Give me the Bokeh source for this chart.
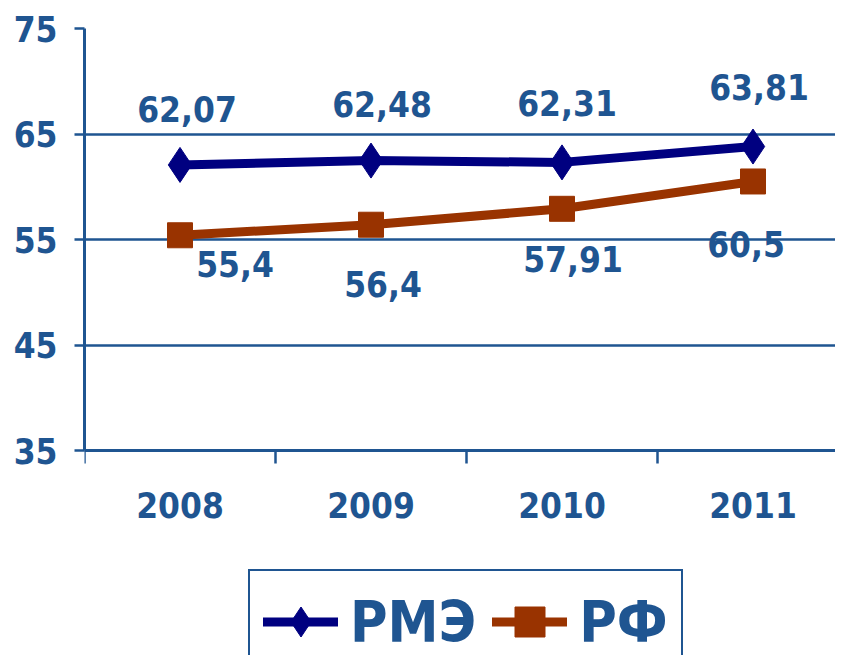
from bokeh.plotting import figure
from bokeh.models import (ColumnDataSource, Range1d, FixedTicker, Legend, LegendItem)
from bokeh.core.properties import value
from bokeh.embed import file_html
from bokeh.resources import INLINE

# ---- data ----
years = ["2008", "2009", "2010", "2011"]
rme = [62.07, 62.48, 62.31, 63.81]
rf = [55.4, 56.4, 57.91, 60.5]
rme_labels = ["62,07", "62,48", "62,31", "63,81"]
rf_labels = ["55,4", "56,4", "57,91", "60,5"]
y_ticks = [35, 45, 55, 65, 75]

# label nudges in screen pixels (manual placement as in the original)
rme_dx = [7, 11, 5, 6]
rme_dy = [-56, -57, -59, -60]
rf_dx = [55, 12, 11, -7]
rf_dy = [29, 59, 50, 63]

FONT = "DejaVu Sans Condensed, DejaVu Sans"
BLUE = "#1F5591"
NAVY = "#000080"
BROWN = "#993300"

W, H = 835, 655
LEFT, TOP = 84, 28
AXIS_PX = 422                      # pixel height of the 35..75 value band
y_min, y_max = y_ticks[0], y_ticks[-1]
px_per_unit = AXIS_PX / (y_max - y_min)
y_lo = y_min - (H - TOP - AXIS_PX) / px_per_unit   # frame continues below the axis for the legend

n = len(years)
xc = [i + 0.5 for i in range(n)]          # category centres on a linear scale
bounds = list(range(n + 1))               # category boundaries
cat_px = 191
x_hi = (W - LEFT) / cat_px

p = figure(width=W, height=H,
           x_range=Range1d(0, x_hi), y_range=Range1d(y_lo, y_max),
           output_backend="svg", toolbar_location=None,
           x_axis_location=None, y_axis_location="left",
           min_border_left=LEFT, min_border_right=0, min_border_top=TOP,
           min_border_bottom=0)
p.outline_line_color = None
p.background_fill_color = "white"
p.border_fill_color = "white"

# y axis (line limited to the value band)
p.yaxis.bounds = (y_min, y_max)
p.yaxis.ticker = FixedTicker(ticks=y_ticks)
p.yaxis.axis_line_color = BLUE
p.yaxis.axis_line_width = 3
p.yaxis.major_tick_line_color = BLUE
p.yaxis.major_tick_line_width = 2.5
p.yaxis.major_tick_out = 10
p.yaxis.major_tick_in = 0
p.yaxis.minor_tick_line_color = None
p.yaxis.major_label_standoff = 17
p.yaxis.major_label_text_font = FONT
p.yaxis.major_label_text_font_style = "bold"
p.yaxis.major_label_text_font_size = "35px"
p.yaxis.major_label_text_color = BLUE

p.xgrid.grid_line_color = None
p.ygrid.ticker = FixedTicker(ticks=y_ticks)
p.ygrid.grid_line_color = BLUE
p.ygrid.grid_line_width = 2.5

# category axis: base line at 35; boundary ticks + labels
tick_len = 13 / px_per_unit
p.segment(x0=bounds, y0=[y_min] * len(bounds), x1=bounds,
          y1=[y_min - tick_len] * len(bounds), line_color=BLUE, line_width=2.5)
p.segment(x0=[0], y0=[y_min], x1=[x_hi], y1=[y_min], line_color=BLUE, line_width=3)
p.text(x=xc, y=[y_min] * n, text=years, y_offset=54,
       text_font=value(FONT), text_font_style="bold", text_font_size="35px",
       text_color=BLUE, text_align="center", text_baseline="alphabetic")

# series
l1 = p.line(xc, rme, line_width=9, color=NAVY, line_cap="round", line_join="round")
s1 = p.scatter(xc, rme, marker="diamond", size=35, color=NAVY)
l2 = p.line(xc, rf, line_width=9, color=BROWN, line_cap="round", line_join="round")
s2 = p.scatter(xc, rf, marker="square", size=25, color=BROWN)

src1 = ColumnDataSource(dict(x=xc, y=rme, t=rme_labels, dx=rme_dx, dy=rme_dy))
src2 = ColumnDataSource(dict(x=xc, y=rf, t=rf_labels, dx=rf_dx, dy=rf_dy))
for src in (src1, src2):
    p.text(x="x", y="y", text="t", x_offset="dx", y_offset="dy", source=src,
           text_font=value(FONT), text_font_style="bold", text_font_size="35px",
           text_color=BLUE, text_align="center", text_baseline="alphabetic")

legend = Legend(items=[LegendItem(label="РМЭ", renderers=[l1, s1]),
                       LegendItem(label="РФ", renderers=[l2, s2])],
                orientation="horizontal", location=(164, -19))
legend.label_text_font = FONT
legend.label_text_font_style = "bold"
legend.label_text_font_size = "57px"
legend.label_text_color = BLUE
legend.glyph_width = 75
legend.glyph_height = 75
legend.label_standoff = 12
legend.spacing = 16
legend.padding = 13
legend.margin = 0
legend.border_line_color = BLUE
legend.border_line_alpha = 1.0
legend.border_line_width = 2.5
legend.background_fill_color = "white"
legend.background_fill_alpha = 1.0
p.add_layout(legend, "center")

open("out.html", "w").write(file_html(p, INLINE))
